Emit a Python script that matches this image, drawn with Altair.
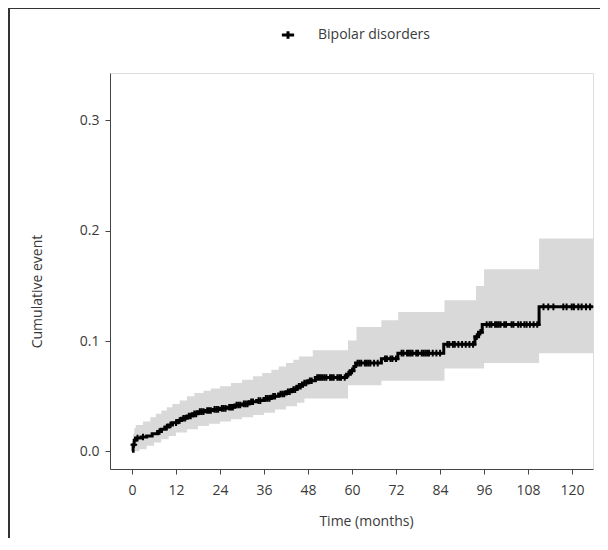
import altair as alt
import numpy as np
import pandas as pd

# Kaplan-Meier cumulative event (step function): event times and values
step_time = [0, 0.3, 0.6, 1, 2.5, 4, 5.5, 7, 8, 9, 10, 11, 12.5, 13.5, 15, 16.5, 18, 20, 22, 24,
             26, 28, 30, 32, 34, 36, 38, 40, 42, 43.5, 45, 46.5, 48, 50, 58.5, 59.5, 60.5, 61,
             68, 72.5, 85, 93.5, 94.5, 95.5, 111, 125.7]
step_value = [0.0, 0.006, 0.010, 0.012, 0.013, 0.014, 0.016, 0.018, 0.020, 0.022, 0.024, 0.026,
              0.028, 0.030, 0.032, 0.034, 0.036, 0.037, 0.038, 0.039, 0.040, 0.042, 0.043, 0.045,
              0.046, 0.048, 0.050, 0.052, 0.054, 0.056, 0.059, 0.062, 0.064, 0.067, 0.070, 0.073,
              0.077, 0.080, 0.084, 0.089, 0.097, 0.104, 0.108, 0.115, 0.131, 0.131]

# Confidence band (upper and lower), step functions
up_time = [0, 0.3, 0.6, 1, 3, 5, 6.5, 8, 9.5, 11, 13, 15, 17, 19.5, 21.5, 24, 27, 30, 33, 35.5,
           38, 40, 42, 44, 45.5, 49.3, 58.9, 61.2, 68, 72.6, 85.2, 93.8, 96, 111, 125.7]
up_value = [0.0, 0.016, 0.021, 0.024, 0.027, 0.031, 0.034, 0.037, 0.040, 0.043, 0.046, 0.050,
            0.053, 0.055, 0.057, 0.059, 0.062, 0.065, 0.068, 0.071, 0.074, 0.077, 0.080, 0.083,
            0.086, 0.0916, 0.1006, 0.1127, 0.1188, 0.1263, 0.137, 0.150, 0.165, 0.193, 0.193]
low_time = [0, 2, 4, 6, 8, 10, 12, 15, 18, 21, 24, 27, 30, 33, 36, 39, 42, 45, 47, 58.9, 68,
            85.2, 96, 111, 125.7]
low_value = [0.0, 0.002, 0.005, 0.008, 0.011, 0.014, 0.017, 0.020, 0.023, 0.025, 0.027, 0.029,
             0.031, 0.033, 0.035, 0.038, 0.041, 0.044, 0.048, 0.060, 0.064, 0.075, 0.080, 0.089,
             0.089]

# Censoring times
censor_time = [0.5, 1.5, 3, 7.5, 9.5, 10.5, 12, 13, 14, 14.5, 15.5, 16, 17, 17.5, 18.5, 19, 19.5,
               20.5, 21, 21.5, 22.5, 23, 23.5, 24.5, 25, 25.5, 26.5, 27, 27.5, 28.5, 29, 29.5,
               30.5, 31, 31.5, 32.5, 33, 34.5, 35, 36.5, 37, 37.5, 38.5, 39, 40.5, 41, 41.5,
               42.5, 43, 44, 44.5, 45.5, 46, 47, 47.5, 48.5, 49, 50.5, 51, 51.5, 52, 52.5, 53,
               54, 54.5, 55, 56, 56.5, 57, 58, 59, 60, 61.5, 62, 62.5, 63.5, 64, 64.5, 65, 66,
               67, 69, 69.5, 70.5, 71, 72, 73.5, 74, 75, 75.5, 76, 76.5, 77.5, 78, 79, 79.5, 80,
               80.5, 81, 82, 83, 84, 86, 86.5, 87.5, 88, 89, 90, 91, 92, 93, 94, 95, 96.7, 97.5,
               98, 99, 99.5, 100, 100.5, 101.5, 102, 103.5, 104, 105.3, 106, 107, 107.6, 108.5,
               109.5, 110.5, 112.2, 113.5, 114.9, 117.6, 118.5, 119.9, 120.5, 121.7, 122.6,
               123.8, 124.9]

x_ticks = [0, 12, 24, 36, 48, 60, 72, 84, 96, 108, 120]
y_ticks = [0.0, 0.1, 0.2, 0.3]
group_name = "Bipolar disorders"

curve = pd.DataFrame({"t": step_time, "v": step_value, "g": group_name})
all_t = sorted(set(up_time) | set(low_time))


def step_at(ts, vs, q):
    idx = np.searchsorted(np.array(ts), np.array(q), side="right") - 1
    return np.array(vs)[np.clip(idx, 0, len(vs) - 1)]


band = pd.DataFrame({"t": all_t,
                     "u": step_at(up_time, up_value, all_t),
                     "l": step_at(low_time, low_value, all_t)})
censor = pd.DataFrame({"t": censor_time,
                       "v": step_at(step_time, step_value, censor_time)})

FONT = "Open Sans"
TXT = "#3a3a3a"

xs = alt.Scale(domain=[-6, 125.7], nice=False, zero=False)
ys = alt.Scale(domain=[-0.016, 0.343], nice=False, zero=False)

x_axis = alt.Axis(values=x_ticks, title="Time (months)", grid=False, domainColor="#444",
                  tickColor="#444", tickSize=5, labelPadding=9, labelFontSize=14,
                  labelColor=TXT, labelFont=FONT, titleFont=FONT, titleFontSize=14,
                  titleFontWeight="normal", titleColor=TXT, titleX=256, titleY=52,
                  titleAlign="center", titleBaseline="middle")
y_axis = alt.Axis(values=y_ticks, format=".1f", title="Cumulative event", grid=False,
                  domainColor="#444", tickColor="#444", tickSize=5, labelPadding=6,
                  labelFontSize=14, labelColor=TXT, labelFont=FONT, titleFont=FONT,
                  titleFontSize=14, titleFontWeight="normal", titleColor=TXT, titleX=-73,
                  titleY=218, titleAlign="center", titleBaseline="middle", titleAngle=-90)

band_layer = alt.Chart(band).mark_area(interpolate="step-after", color="#d9d9d9").encode(
    x=alt.X("t:Q", scale=xs, axis=x_axis),
    y=alt.Y("u:Q", scale=ys, axis=y_axis),
    y2="l:Q",
)

line_layer = alt.Chart(curve).mark_line(interpolate="step-after", strokeWidth=3).encode(
    x=alt.X("t:Q", scale=xs),
    y=alt.Y("v:Q", scale=ys),
    color=alt.Color("g:N", scale=alt.Scale(range=["black"]),
                    legend=alt.Legend(title=None, orient="none", legendX=170, legendY=-46,
                                      symbolType="M-1,0L1,0M0,-0.6L0,0.6",
                                      symbolSize=150, symbolStrokeWidth=3,
                                      symbolStrokeColor="black", labelFont=FONT,
                                      labelFontSize=14, labelColor=TXT, labelOffset=22)),
)

censor_layer = alt.Chart(censor).mark_point(
    shape="M-1,0L1,0M0,-1L0,1", size=44, strokeWidth=2, color="black", filled=False,
    opacity=1).encode(
    x=alt.X("t:Q", scale=xs),
    y=alt.Y("v:Q", scale=ys),
)

frame_top = alt.Chart(pd.DataFrame({"a": [0]})).mark_rule(color="#333", strokeWidth=2).encode(
    x=alt.value(-102), x2=alt.value(500), y=alt.value(-65))
frame_left = alt.Chart(pd.DataFrame({"a": [0]})).mark_rule(color="#333", strokeWidth=2).encode(
    x=alt.value(-101), y=alt.value(-66), y2=alt.value(480))

chart = alt.layer(band_layer, line_layer, censor_layer, frame_top, frame_left).properties(
    width=483, height=396,
    autosize=alt.AutoSizeParams(type="none"),
    padding={"left": 102, "top": 65, "right": 7, "bottom": 69},
).configure_view(stroke=None).configure(background="white")

chart.save("out.html", embed_options={"renderer": "svg", "actions": False})
